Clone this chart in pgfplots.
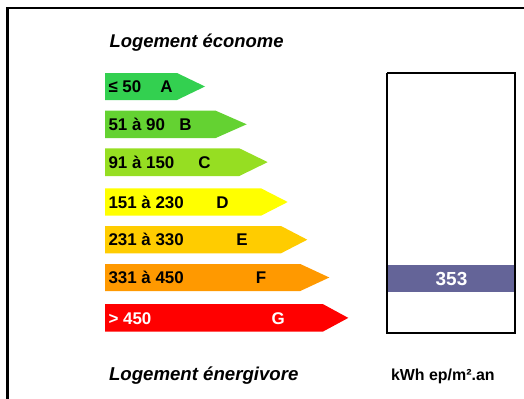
\documentclass[border=0pt]{standalone}
\usepackage{pgfplots}
\pgfplotsset{compat=1.18}
\usepackage{fontspec}
\setmainfont{Liberation Sans}
\definecolor{cA}{RGB}{51,208,80}
\definecolor{cB}{RGB}{100,210,50}
\definecolor{cC}{RGB}{150,222,34}
\definecolor{cD}{RGB}{255,255,0}
\definecolor{cE}{RGB}{255,204,0}
\definecolor{cF}{RGB}{255,153,0}
\definecolor{cG}{RGB}{255,0,0}
\definecolor{cP}{RGB}{100,100,152}
\begin{document}
\begin{tikzpicture}[inner sep=0pt, outer sep=0pt]
\begin{axis}[
  scale only axis, width=524bp, height=399bp,
  xmin=0, xmax=524, ymin=0, ymax=399, y dir=reverse,
  axis lines=none, clip=false,
]
% frame
\addplot[black, line width=2.8bp, line join=miter, mark=none] coordinates {(7.5,399) (7.5,8) (524,8)};
% arrows
\addplot[fill=cA, draw=none] coordinates {(105,73) (177,73) (205,86.5) (177,100) (105,100)};
\addplot[fill=cB, draw=none] coordinates {(105,110.7) (215.7,110.7) (246.7,124.3) (215.7,138) (105,138)};
\addplot[fill=cC, draw=none] coordinates {(105,148.3) (239.3,148.3) (267.7,162.1) (239.3,176) (105,176)};
\addplot[fill=cD, draw=none] coordinates {(105,188.3) (261,188.3) (287.7,202) (261,215.7) (105,215.7)};
\addplot[fill=cE, draw=none] coordinates {(105,226) (281,226) (307.3,239.7) (281,253.3) (105,253.3)};
\addplot[fill=cF, draw=none] coordinates {(105,264) (300.3,264) (329.3,277.5) (300.3,291) (105,291)};
\addplot[fill=cG, draw=none] coordinates {(105,304) (322.7,304) (348.3,317.9) (322.7,331.7) (105,331.7)};
% value band and box
\addplot[fill=cP, draw=none] coordinates {(388,265) (515,265) (515,291.7) (388,291.7)};
\addplot[black, line width=2bp, line join=miter, mark=none] coordinates {(387.3,73.3) (515,73.3) (515,333.3) (387.3,333.3) (387.3,73.3)};
% labels
\begin{scope}[font=\fontsize{17}{19}\selectfont\bfseries, inner sep=0pt]
\node[inner sep=0pt, anchor=base west] at (axis cs:108.5,92.6) {≤ 50};
\node[inner sep=0pt, anchor=base] at (axis cs:166.5,92.6) {A};
\node[inner sep=0pt, anchor=base west] at (axis cs:108.5,130.4) {51 à 90};
\node[inner sep=0pt, anchor=base] at (axis cs:185.5,130.4) {B};
\node[inner sep=0pt, anchor=base west] at (axis cs:108.5,168.2) {91 à 150};
\node[inner sep=0pt, anchor=base] at (axis cs:204.5,168.2) {C};
\node[inner sep=0pt, anchor=base west] at (axis cs:108.5,208.1) {151 à 230};
\node[inner sep=0pt, anchor=base] at (axis cs:222.5,208.1) {D};
\node[inner sep=0pt, anchor=base west] at (axis cs:108.5,245.8) {231 à 330};
\node[inner sep=0pt, anchor=base] at (axis cs:242,245.8) {E};
\node[inner sep=0pt, anchor=base west] at (axis cs:108.5,283.6) {331 à 450};
\node[inner sep=0pt, anchor=base] at (axis cs:261,283.6) {F};
\node[inner sep=0pt, anchor=base west, text=white] at (axis cs:108.5,324) {> 450};
\node[inner sep=0pt, anchor=base, text=white] at (axis cs:278.2,324) {G};
\end{scope}
\node[inner sep=0pt, anchor=base, text=white, font=\fontsize{19}{21}\selectfont\bfseries] at (axis cs:451.5,285) {353};
\node[inner sep=0pt, anchor=base west, font=\fontsize{18.5}{20}\selectfont\bfseries\itshape] at (axis cs:109.5,47) {Logement économe};
\node[inner sep=0pt, anchor=base west, font=\fontsize{18.7}{20}\selectfont\bfseries\itshape] at (axis cs:109,380) {Logement énergivore};
\node[inner sep=0pt, anchor=base west, font=\fontsize{16}{18}\selectfont\bfseries] at (axis cs:391,380) {kWh ep/m².an};
\end{axis}
\pgfresetboundingbox
\path[use as bounding box] (0,0) rectangle (524bp,399bp);
\end{tikzpicture}
\end{document}
